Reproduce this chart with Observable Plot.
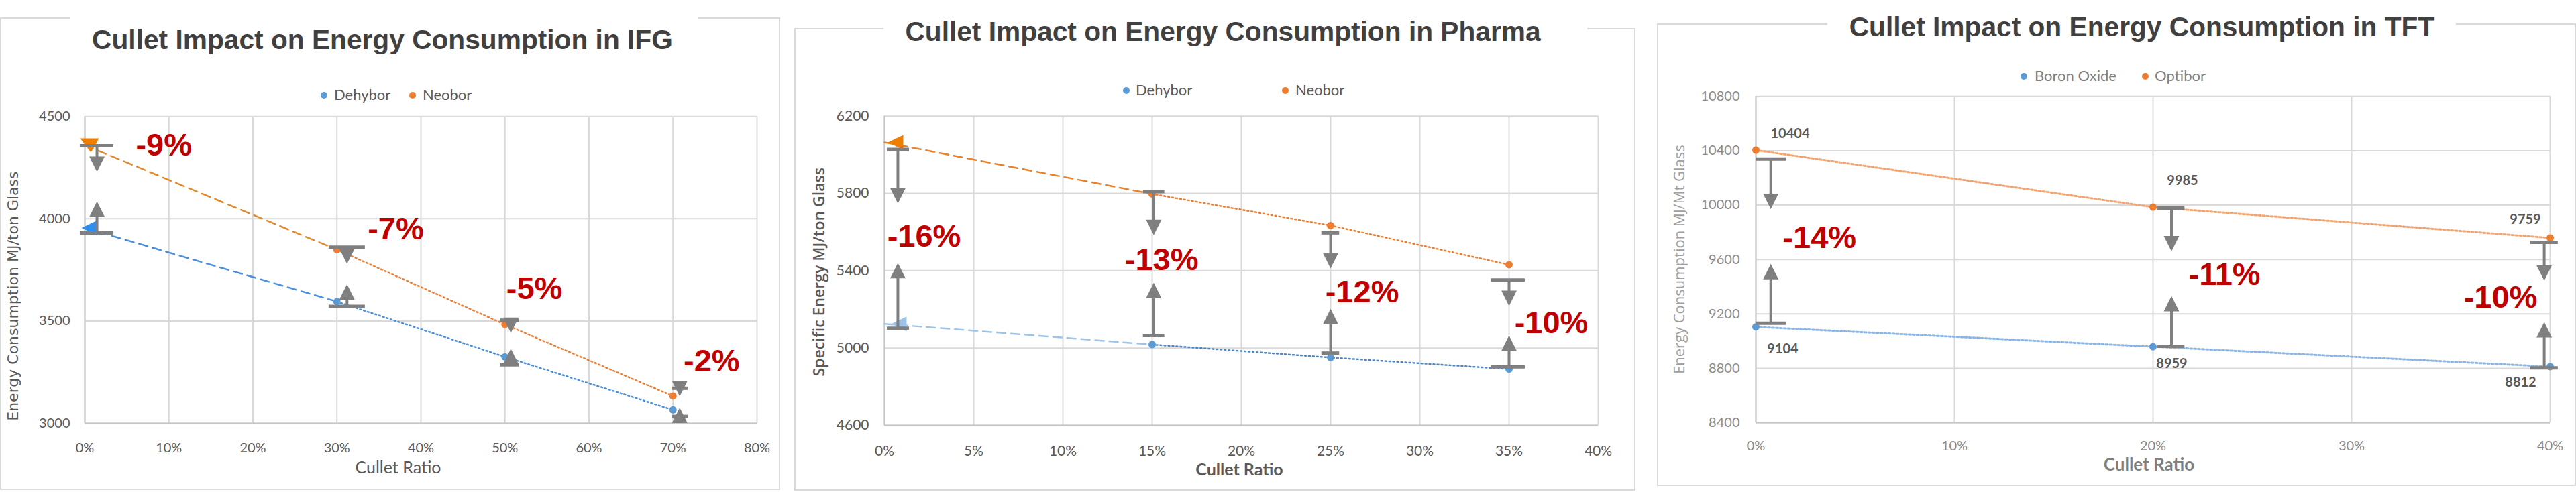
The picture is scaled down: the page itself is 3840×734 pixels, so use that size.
<!DOCTYPE html>
<html><head><meta charset="utf-8">
<script src="https://cdn.jsdelivr.net/npm/d3@7"></script>
<script src="https://cdn.jsdelivr.net/npm/@observablehq/plot@0.6"></script>
<style>
html,body{margin:0;padding:0;background:#fff;}
#root{position:relative;width:3840px;height:734px;overflow:hidden;background:#fff;}
.panel{position:absolute;border:2px solid #d9d9d9;box-sizing:border-box;}
.gap{position:absolute;background:#fff;height:8px;}
.title{position:absolute;width:1400px;text-align:center;font-family:"Liberation Sans",Arial,sans-serif;font-weight:bold;font-size:40.7px;line-height:40px;color:#404040;white-space:nowrap;}
.ldot{position:absolute;width:10px;height:10px;border-radius:50%;}
.ltxt{position:absolute;font-family:Lato,sans-serif;font-size:22px;line-height:22px;white-space:nowrap;}
.chart{position:absolute;}
.chart svg{max-width:none;}
</style></head><body><div id="root"></div>
<script>
// ---------- IFG ----------
const ifgRatio = [0, 0.30, 0.50, 0.70];
const ifgDehybor = [3955, 3595, 3325, 3066];
const ifgNeobor = [4360, 3849, 3483, 3133];
const ifgArrowX = [0.0144, 0.312, 0.507, 0.708];
const ifgCapTop = [4357, 3861, 3504, 3171];
const ifgTipDown = [4229, 3779, 3442, 3131];
const ifgCapBottom = [3931, 3572, 3286, 3034];
const ifgTipUp = [4085, 3680, 3365, 3077];
const ifgCapLeft = [-0.005, 0.2905, 0.4945, 0.699];
const ifgCapRight = [0.034, 0.3336, 0.5168, 0.718];
const ifgLabels = ["-9%", "-7%", "-5%", "-2%"];
const ifgLabelX = [0.094, 0.370, 0.535, 0.746];
const ifgLabelY = [4360, 3948, 3656, 3304];
const ifgXTicks = [0, 0.1, 0.2, 0.3, 0.4, 0.5, 0.6, 0.7, 0.8];
const ifgYTicks = [3000, 3500, 4000, 4500];
const ifgSeries = ["Dehybor", "Neobor"];

// ---------- Pharma ----------
const pharmaRatio = [0, 0.15, 0.25, 0.35];
const pharmaDehybor = [5125, 5018, 4951, 4891];
const pharmaNeobor = [6064, 5797, 5634, 5431];
const pharmaArrowX = [0.0075, 0.1509, 0.250, 0.350];
const pharmaCapTop = [6027, 5809, 5596, 5352];
const pharmaTipDown = [5747, 5584, 5412, 5217];
const pharmaCapBottom = [5102, 5065, 4974, 4903];
const pharmaTipUp = [5440, 5338, 5203, 5065];
const pharmaCapLeft = [0.0015, 0.145, 0.245, 0.340];
const pharmaCapRight = [0.0139, 0.157, 0.255, 0.359];
const pharmaLabels = ["-16%", "-13%", "-12%", "-10%"];
const pharmaLabelX = [0.0222, 0.1553, 0.2677, 0.3737];
const pharmaLabelY = [5578, 5455, 5287, 5128];
const pharmaXTicks = [0, 0.05, 0.10, 0.15, 0.20, 0.25, 0.30, 0.35, 0.40];
const pharmaYTicks = [4600, 5000, 5400, 5800, 6200];
const pharmaSeries = ["Dehybor", "Neobor"];

// ---------- TFT ----------
const tftRatio = [0, 0.2, 0.4];
const tftBoronOxide = [9104, 8959, 8812];
const tftOptibor = [10404, 9985, 9759];
const tftArrowX = [0.0075, 0.2093, 0.397];
const tftCapTop = [10339, 9978, 9726];
const tftTipDown = [9970, 9660, 9444];
const tftCapBottom = [9131, 8962, 8803];
const tftTipUp = [9567, 9332, 9140];
const tftCapLeft = [0, 0.2024, 0.390];
const tftCapRight = [0.0152, 0.216, 0.404];
const tftLabels = ["-14%", "-11%", "-10%"];
const tftLabelX = [0.032, 0.236, 0.375];
const tftLabelY = [9759, 9487, 9320];
const tftXTicks = [0, 0.1, 0.2, 0.3, 0.4];
const tftYTicks = [8400, 8800, 9200, 9600, 10000, 10400, 10800];
const tftSeries = ["Boron Oxide", "Optibor"];

const titles = ["Cullet Impact on Energy Consumption in IFG", "Cullet Impact on Energy Consumption in Pharma", "Cullet Impact on Energy Consumption in TFT"];
const yTitles = ["Energy Consumption MJ/ton Glass", "Specific Energy MJ/ton Glass", "Energy Consumption MJ/Mt Glass"];
const xTitle = "Cullet Ratio";

// ---------- helpers ----------
const pct = d3.format(".0%");
const intf = d3.format("d");
const GRAY = "#7F7F7F";
const RED = "#C00000";
const arrowDown = {draw(c){c.moveTo(0,0);c.lineTo(-11.5,-23);c.lineTo(11.5,-23);c.closePath();}};
const arrowUp = {draw(c){c.moveTo(0,0);c.lineTo(-11.5,23);c.lineTo(11.5,23);c.closePath();}};
const triLeft = {draw(c){c.moveTo(-12,0);c.lineTo(11,-11);c.lineTo(11,11);c.closePath();}};
const triDown = {draw(c){c.moveTo(-14,-10);c.lineTo(14,-10);c.lineTo(2,11);c.closePath();}};

function annotationMarks(xs, capTop, tipDown, capBottom, tipUp, capL, capR, labels, lx, ly) {
  const ann = xs.map((x, i) => ({x, capTop: capTop[i], tipDown: tipDown[i], capBottom: capBottom[i], tipUp: tipUp[i], l: capL[i], r: capR[i]}));
  const lab = labels.map((t, i) => ({t, x: lx[i], y: ly[i]}));
  return [
    Plot.ruleX(ann, {x: "x", y1: "capTop", y2: "tipDown", stroke: GRAY, strokeWidth: 4, insetBottom: 12}),
    Plot.ruleX(ann, {x: "x", y1: "tipUp", y2: "capBottom", stroke: GRAY, strokeWidth: 4, insetTop: 12}),
    Plot.ruleY(ann, {y: "capTop", x1: "l", x2: "r", stroke: GRAY, strokeWidth: 5}),
    Plot.ruleY(ann, {y: "capBottom", x1: "l", x2: "r", stroke: GRAY, strokeWidth: 5}),
    Plot.dot(ann, {x: "x", y: "tipDown", symbol: arrowDown, r: 10, fill: GRAY, stroke: "none"}),
    Plot.dot(ann, {x: "x", y: "tipUp", symbol: arrowUp, r: 10, fill: GRAY, stroke: "none"}),
    Plot.text(lab, {x: "x", y: "y", text: "t", fill: RED, fontSize: 47, fontWeight: "bold", fontFamily: "'Liberation Sans', Arial, sans-serif", textAnchor: "middle"})
  ];
}
function gridMarks(xt, yt, x0, y0) {
  return [
    Plot.ruleX(xt, {stroke: "#d9d9d9", strokeWidth: 2}),
    Plot.ruleY(yt, {stroke: "#d9d9d9", strokeWidth: 2}),
    Plot.ruleX([x0], {stroke: "#c6c6c6", strokeWidth: 2}),
    Plot.ruleY([y0], {stroke: "#c6c6c6", strokeWidth: 2})
  ];
}
const root = document.getElementById("root");
function addDiv(cls, css, text) {
  const d = document.createElement("div");
  d.className = cls;
  Object.assign(d.style, css);
  if (text != null) d.textContent = text;
  root.appendChild(d);
  return d;
}
function frameBox(left, top, width, height, gapL, gapR) {
  addDiv("panel", {left: left + "px", top: top + "px", width: width + "px", height: height + "px"});
  addDiv("gap", {left: gapL + "px", top: (top - 3) + "px", width: (gapR - gapL) + "px"});
}
function title(text, cx, baseline) {
  addDiv("title", {left: (cx - 700) + "px", top: (baseline - 34.1) + "px"}, text);
}
function legend(names, colors, dotX, textX, cy, color) {
  names.forEach((n, i) => {
    addDiv("ldot", {left: (dotX[i] - 5) + "px", top: (cy - 5) + "px", background: colors[i]});
    addDiv("ltxt", {left: textX[i] + "px", top: (cy - 11.6) + "px", color}, n);
  });
}
function place(svg, left, top, w) {
  const d = addDiv("chart", {left: left + "px", top: top + "px", width: w + "px"});
  d.appendChild(svg);
}

// ---------- Panel 1 : IFG ----------
frameBox(0, 26, 1163, 705, 104, 1040);
title(titles[0], 570, 73.3);
legend(ifgSeries, ["#5B9BD5", "#ED7D31"], [483, 615], [498, 630], 142, "#595959");
const ifgRows = ifgRatio.map((x, i) => ({x, d: ifgDehybor[i], n: ifgNeobor[i]}));
const chart1 = Plot.plot({
  width: 1160, height: 630, marginLeft: 124, marginRight: 34, marginTop: 73.3, marginBottom: 99,
  style: {fontFamily: "Lato, sans-serif", fontSize: "20px", color: "#595959", background: "transparent", overflow: "visible"},
  x: {domain: [0, 0.8], ticks: ifgXTicks, tickFormat: pct, tickSize: 0, tickPadding: 29, label: null},
  y: {domain: [3000, 4500], ticks: ifgYTicks, tickFormat: intf, tickSize: 0, tickPadding: 22, label: null},
  marks: [
    ...gridMarks(ifgXTicks, ifgYTicks, 0, 3000),
    Plot.line(ifgRows.slice(0, 2), {x: "x", y: "n", stroke: "#E0892E", strokeWidth: 2.5, strokeDasharray: "13,8"}),
    Plot.line(ifgRows.slice(0, 2), {x: "x", y: "d", stroke: "#4A8FDB", strokeWidth: 2.5, strokeDasharray: "13,8"}),
    Plot.line(ifgRows.slice(1), {x: "x", y: "n", stroke: "#ED7D31", strokeWidth: 2.5, strokeDasharray: "2,4"}),
    Plot.line(ifgRows.slice(1), {x: "x", y: "d", stroke: "#4A8FDB", strokeWidth: 2.5, strokeDasharray: "2,4"}),
    Plot.dot(ifgRows.slice(1), {x: "x", y: "n", r: 5.5, fill: "#ED7D31", stroke: "none"}),
    Plot.dot(ifgRows.slice(1), {x: "x", y: "d", r: 5.5, fill: "#5B9BD5", stroke: "none"}),
    Plot.dot(ifgRows.slice(0, 1), {x: "x", y: "n", symbol: triDown, r: 10, fill: "#F07F00", stroke: "none", dx: 7}),
    Plot.dot(ifgRows.slice(0, 1), {x: "x", y: "d", symbol: triLeft, r: 10, fill: "#2E8FF0", stroke: "none", dx: 7}),
    ...annotationMarks(ifgArrowX, ifgCapTop, ifgTipDown, ifgCapBottom, ifgTipUp, ifgCapLeft, ifgCapRight, ifgLabels, ifgLabelX, ifgLabelY),
    Plot.text([yTitles[0]], {frameAnchor: "left", text: d => d, rotate: -90, dx: -107, dy: 39, fontFamily: "'DejaVu Sans', sans-serif", fontSize: 22, fill: "#595959", textAnchor: "middle"}),
    Plot.text([xTitle], {frameAnchor: "bottom", text: d => d, dx: -34, dy: 74, fontSize: 25, fill: "#595959", textAnchor: "middle"})
  ]
});
place(chart1, 2, 100, 1160);

// ---------- Panel 2 : Pharma ----------
frameBox(1184, 42, 1254, 690, 1317, 2366);
title(titles[1], 1823, 61);
legend(pharmaSeries, ["#5B9BD5", "#ED7D31"], [1679, 1916], [1693, 1931], 135, "#595959");
const phRows = pharmaRatio.map((x, i) => ({x, d: pharmaDehybor[i], n: pharmaNeobor[i]}));
const chart2 = Plot.plot({
  width: 1250, height: 630, marginLeft: 132, marginRight: 54, marginTop: 72.7, marginBottom: 96,
  style: {fontFamily: "Lato, sans-serif", fontSize: "21px", color: "#595959", background: "transparent", overflow: "visible"},
  x: {domain: [0, 0.4], ticks: pharmaXTicks, tickFormat: pct, tickSize: 0, tickPadding: 31, label: null},
  y: {domain: [4600, 6200], ticks: pharmaYTicks, tickFormat: intf, tickSize: 0, tickPadding: 23, label: null},
  marks: [
    ...gridMarks(pharmaXTicks, pharmaYTicks, 0, 4600),
    Plot.line(phRows.slice(0, 2), {x: "x", y: "n", stroke: "#E8822A", strokeWidth: 2.5, strokeDasharray: "13,8"}),
    Plot.line(phRows.slice(0, 2), {x: "x", y: "d", stroke: "#9DC3E6", strokeWidth: 2.5, strokeDasharray: "13,8"}),
    Plot.line(phRows.slice(1), {x: "x", y: "n", stroke: "#ED7D31", strokeWidth: 2.5, strokeDasharray: "2,4"}),
    Plot.line(phRows.slice(1), {x: "x", y: "d", stroke: "#4F86C6", strokeWidth: 2.5, strokeDasharray: "2,4"}),
    Plot.dot(phRows.slice(1), {x: "x", y: "n", r: 5.5, fill: "#ED7D31", stroke: "none"}),
    Plot.dot(phRows.slice(1), {x: "x", y: "d", r: 5.5, fill: "#5B9BD5", stroke: "none"}),
    Plot.dot(phRows.slice(0, 1), {x: "x", y: "n", symbol: triLeft, r: 10, fill: "#F07F00", stroke: "none", dx: 17}),
    Plot.dot(phRows.slice(0, 1), {x: "x", y: "d", symbol: triLeft, r: 10, fill: "#9DC3E6", stroke: "none", dx: 22}),
    ...annotationMarks(pharmaArrowX, pharmaCapTop, pharmaTipDown, pharmaCapBottom, pharmaTipUp, pharmaCapLeft, pharmaCapRight, pharmaLabels, pharmaLabelX, pharmaLabelY),
    Plot.text([yTitles[1]], {frameAnchor: "left", text: d => d, rotate: -90, dx: -97, dy: 2, fontFamily: "'Open Sans', sans-serif", fontWeight: 600, fontSize: 23, fill: "#595959", textAnchor: "middle"}),
    Plot.text([xTitle], {frameAnchor: "bottom", text: d => d, dx: -3, dy: 74, fontSize: 25, fontWeight: "bold", fill: "#595959", textAnchor: "middle"})
  ]
});
place(chart2, 1186, 100, 1250);

// ---------- Panel 3 : TFT ----------
frameBox(2470, 35, 1370, 690, 2724, 3661);
title(titles[2], 3193, 53.8);
legend(tftSeries, ["#5B9BD5", "#ED7D31"], [3017, 3198], [3033, 3212], 114, "#7f7f7f");
const tRows = tftRatio.map((x, i) => ({x, b: tftBoronOxide[i], o: tftOptibor[i]}));
const lbl = {fontSize: 20, fontWeight: "bold", fill: "#595959", textAnchor: "middle"};
const chart3 = Plot.plot({
  width: 1366, height: 645, marginLeft: 145, marginRight: 37, marginTop: 63.3, marginBottom: 95,
  style: {fontFamily: "Lato, sans-serif", fontSize: "20px", color: "#8a8a8a", background: "transparent", overflow: "visible"},
  x: {domain: [0, 0.4], ticks: tftXTicks, tickFormat: pct, tickSize: 0, tickPadding: 27, label: null},
  y: {domain: [8400, 10800], ticks: tftYTicks, tickFormat: intf, tickSize: 0, tickPadding: 24, label: null},
  marks: [
    ...gridMarks(tftXTicks, tftYTicks, 0, 8400),
    Plot.line(tRows, {x: "x", y: "o", stroke: "#F0A573", strokeWidth: 3, strokeDasharray: "3,3"}),
    Plot.line(tRows, {x: "x", y: "b", stroke: "#8DB6E2", strokeWidth: 3, strokeDasharray: "3,3"}),
    Plot.dot(tRows, {x: "x", y: "o", r: 5.5, fill: "#ED7D31", stroke: "none"}),
    Plot.dot(tRows, {x: "x", y: "b", r: 5.5, fill: "#5B9BD5", stroke: "none"}),
    Plot.text(tRows.slice(0, 1), {x: "x", y: "o", text: d => String(d.o), dx: 51, dy: -25, ...lbl}),
    Plot.text(tRows.slice(1, 2), {x: "x", y: "o", text: d => String(d.o), dx: 44, dy: -39, ...lbl}),
    Plot.text(tRows.slice(2, 3), {x: "x", y: "o", text: d => String(d.o), dx: -37, dy: -27, ...lbl}),
    Plot.text(tRows.slice(0, 1), {x: "x", y: "b", text: d => String(d.b), dx: 40, dy: 33, ...lbl}),
    Plot.text(tRows.slice(1, 2), {x: "x", y: "b", text: d => String(d.b), dx: 28, dy: 25, ...lbl}),
    Plot.text(tRows.slice(2, 3), {x: "x", y: "b", text: d => String(d.b), dx: -44, dy: 24, ...lbl}),
    ...annotationMarks(tftArrowX, tftCapTop, tftTipDown, tftCapBottom, tftTipUp, tftCapLeft, tftCapRight, tftLabels, tftLabelX, tftLabelY),
    Plot.text([yTitles[2]], {frameAnchor: "left", text: d => d, rotate: -90, dx: -114, dy: 0, fontFamily: "'Open Sans', sans-serif", fontSize: 22, fill: "#a0a0a0", textAnchor: "middle"}),
    Plot.text([xTitle], {frameAnchor: "bottom", text: d => d, dx: -6, dy: 71, fontSize: 26, fontWeight: "bold", fill: "#7f7f7f", textAnchor: "middle"})
  ]
});
place(chart3, 2472, 80, 1366);
</script></body></html>
